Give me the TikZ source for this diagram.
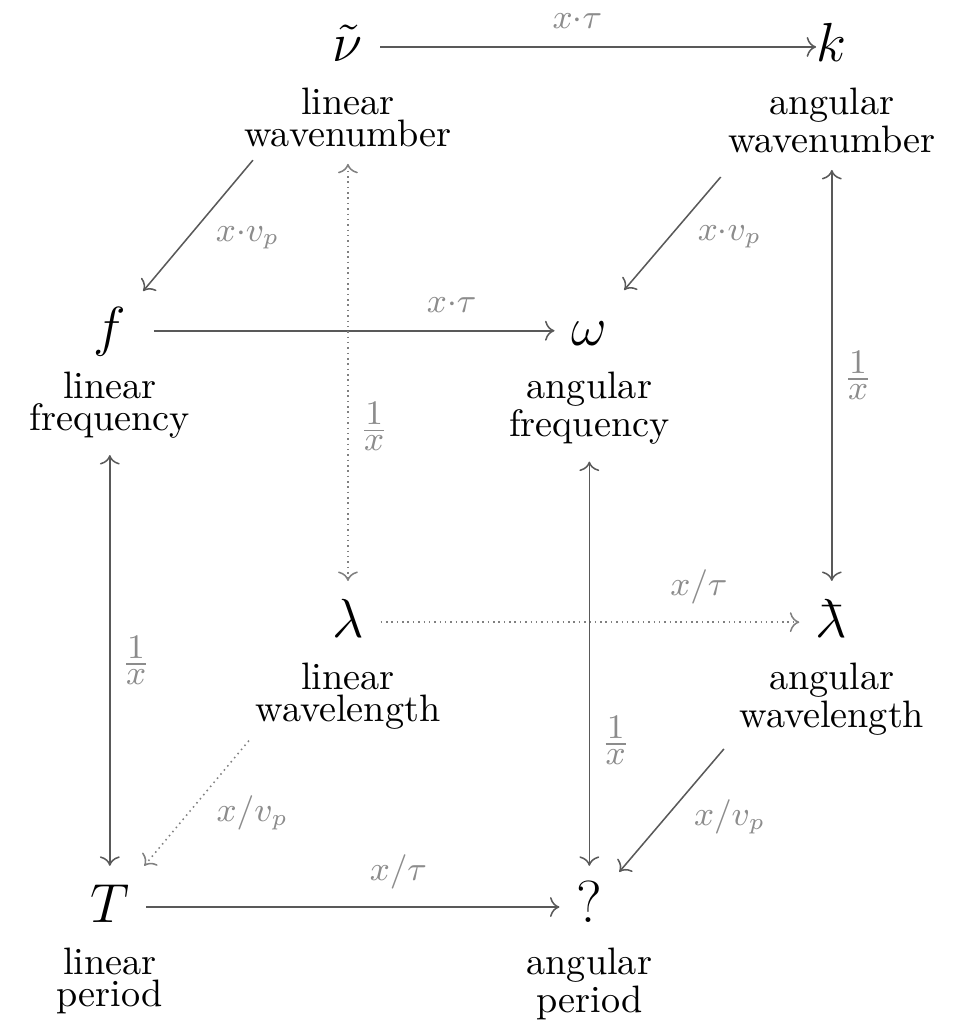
\documentclass[tikz,border=0pt]{standalone}
\usepackage{amsmath,amssymb}
\usepackage{tikz}
\usetikzlibrary{arrows.meta,positioning}
\newcommand{\barlambda}{{\mkern0.75mu\mathchar'26\mkern-9.75mu\lambda}}
\newcommand{\recip}{$\frac{\textstyle 1}{\textstyle x}$}

\begin{document}
\begin{tikzpicture}[
  sym/.style={font=\fontsize{15.5}{18}\selectfont, anchor=base, text height=0.35cm, text depth=0.074cm, inner xsep=0.15cm, inner ysep=0.16cm},
  quant/.style={font=\fontsize{10}{8.4}\selectfont, align=center, inner sep=0.15cm},
  conv/.style={draw=black!65},
  hidedge/.style={draw=black!50, densely dotted},
  fac/.style={font=\fontsize{9.2}{11}\selectfont, text=black!45, inner sep=0.1cm},
]
  \useasboundingbox (0,0) rectangle (8.77,9.39);

  % quantities
  \node[sym] (nu)  at (3.20,8.82) {$\tilde{\nu}$};
  \node[sym] (k)   at (7.65,8.82) {$k$};
  \node[sym] (f)   at (1.01,6.21) {$f$};
  \node[sym] (om)  at (5.42,6.21) {$\omega$};
  \node[sym] (la)  at (3.20,3.53) {$\lambda$};
  \node[sym] (lb)  at (7.65,3.53) {$\barlambda$};
  \node[sym] (T)   at (1.01,0.91) {$T$};
  \node[sym] (per) at (5.42,0.91) {?};

  \node[quant, below=0.08cm of nu.base]  (nuL)  {linear\\wavenumber};
  \node[quant, below=0.08cm of k.base]   (kL)   {angular\\wavenumber};
  \node[quant, below=0.08cm of f.base]   (fL)   {linear\\frequency};
  \node[quant, below=0.08cm of om.base]  (omL)  {angular\\frequency};
  \node[quant, below=0.08cm of la.base]  (laL)  {linear\\wavelength};
  \node[quant, below=0.08cm of lb.base]  (lbL)  {angular\\wavelength};
  \node[quant, below=0.08cm of T.base]   (TL)   {linear\\period};
  \node[quant, below=0.08cm of per.base] (perL) {angular\\period};

  % linear -> angular
  \draw[conv, ->, shorten >=-0.15cm] (nu) -- node[fac, above=0.06cm, pos=0.47] {$x{\cdot}\tau$} (k);
  \draw[conv, ->, shorten <=0.1cm] (f) -- node[fac, above=0.06cm, pos=0.75] {$x{\cdot}\tau$} (om);
  \draw[hidedge, ->] (la) -- node[fac, above=0.06cm, pos=0.76] {$x/\tau$} (lb);
  \draw[conv, ->] (T) -- node[fac, above=0.06cm, pos=0.61] {$x/\tau$} (per);

  % reciprocals
  \draw[hidedge, <->] (nuL) -- node[fac, right, pos=0.63] {\recip} (la);
  \draw[conv, <->] (kL) -- node[fac, right, pos=0.5] {\recip} (lb);
  \draw[conv, <->] (fL) -- node[fac, right, pos=0.5] {\recip} (T);
  \draw[conv, <->] (omL) -- node[fac, right, pos=0.69] {\recip} (per);

  % phase velocity
  \draw[conv, ->, shorten <=0.9cm] (nu) -- node[fac, right=0.15cm, pos=0.74] {$x{\cdot}v_p$} (f);
  \draw[conv, ->, shorten <=1.12cm] (k) -- node[fac, right=0.15cm, pos=0.74] {$x{\cdot}v_p$} (om);
  \draw[hidedge, ->, shorten <=0.95cm] (la) -- node[fac, right=0.15cm, pos=0.74] {$x/v_p$} (T);
  \draw[conv, ->, shorten <=1.07cm] (lb) -- node[fac, right=0.15cm, pos=0.74] {$x/v_p$} (per);
\end{tikzpicture}
\end{document}
